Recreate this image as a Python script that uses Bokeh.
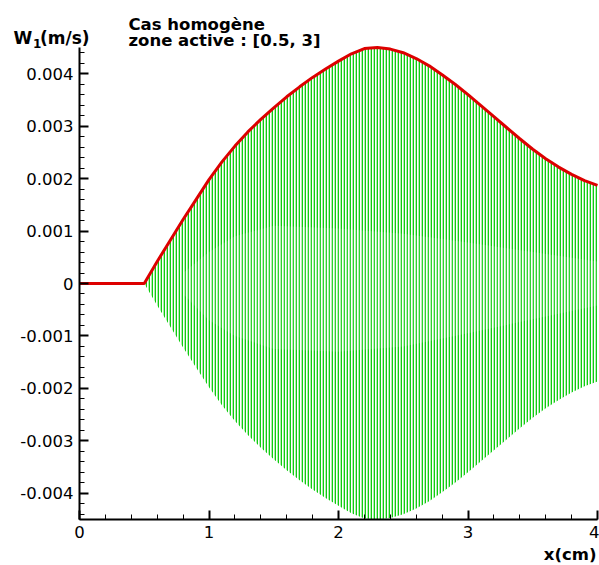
from bokeh.plotting import figure
from bokeh.models import FixedTicker, Label, ColumnDataSource
from bokeh.embed import file_html
from bokeh.resources import INLINE

# Envelope of W1 (m/s) versus x (cm)
x_env = [0.0, 0.5, 0.6, 0.7, 0.8, 0.9, 1.0, 1.1, 1.2, 1.3, 1.4, 1.5, 1.6, 1.7, 1.8, 1.9,
         2.0, 2.1, 2.2, 2.3, 2.4, 2.5, 2.6, 2.7, 2.8, 2.9, 3.0, 3.1, 3.2, 3.3, 3.4,
         3.5, 3.6, 3.7, 3.8, 3.9, 4.0]
w_env = [0.0, 0.0, 0.00042, 0.00082, 0.00122, 0.00160, 0.00198, 0.00232, 0.00262,
         0.00289, 0.00313, 0.00335, 0.00356, 0.00375, 0.00393, 0.00409, 0.00424,
         0.00438, 0.00448, 0.00450, 0.00447, 0.00440, 0.00429, 0.00415, 0.00398,
         0.00380, 0.00360, 0.00339, 0.00318, 0.00297, 0.00276, 0.00256, 0.00238,
         0.00222, 0.00208, 0.00196, 0.00187]
w_neg = [-v for v in w_env]

# paler inner band of the oscillation
x_band = [0.8, 1.0, 1.2, 1.5, 2.0, 2.5, 3.0, 3.5, 4.0]
band_hi = [0.0002, 0.0006, 0.0009, 0.00110, 0.00105, 0.00095, 0.00078, 0.00060, 0.00042]
band_lo = [-0.0002, -0.0007, -0.0010, -0.00125, -0.00130, -0.00120, -0.00095, -0.00068, -0.00042]

x_ticks = [0, 1, 2, 3, 4]
x_labels = ["0", "1", "2", "3", "4"]
y_ticks = [-0.004, -0.003, -0.002, -0.001, 0.0, 0.001, 0.002, 0.003, 0.004]
y_labels = ["-0.004", "-0.003", "-0.002", "-0.001", "0", "0.001", "0.002", "0.003", "0.004"]
x_minor = [i * 0.2 for i in range(0, 21)]
y_minor = [i * 0.0002 for i in range(-22, 23)]
X_MIN, X_MAX = 0.0, 4.0
Y_MIN, Y_MAX = -0.0045, 0.0045

# layout (pixels) of the plotting box inside the 599x565 canvas
W, H = 599, 565
LEFT, RIGHT, TOP, BOTTOM = 79, 597, 47, 519
kx = (RIGHT - LEFT) / (X_MAX - X_MIN)
ky = (BOTTOM - TOP) / (Y_MAX - Y_MIN)
xr = (X_MIN - LEFT / kx, X_MAX + (W - RIGHT) / kx)
yr = (Y_MIN - (H - BOTTOM) / ky, Y_MAX + TOP / ky)

FONT = "DejaVu Sans"

p = figure(width=W, height=H, output_backend="svg", toolbar_location=None,
           x_range=xr, y_range=yr, min_border=0)
p.outline_line_color = None
p.xgrid.visible = False
p.ygrid.visible = False
p.background_fill_color = "white"
p.border_fill_color = "white"

src = ColumnDataSource(dict(x=x_env, top=w_env, bot=w_neg))
p.varea(x="x", y1="bot", y2="top", source=src, fill_alpha=0.0,
        hatch_pattern="vertical_line", hatch_color="#10cc10",
        hatch_scale=3, hatch_weight=1.7)
band = ColumnDataSource(dict(x=x_band, hi=band_hi, lo=band_lo))
p.varea(x="x", y1="lo", y2="hi", source=band, fill_color="white", fill_alpha=0.14)
p.line(x="x", y="top", source=src, line_color="#dd0000", line_width=3)

p.xaxis.fixed_location = Y_MIN
p.xaxis.bounds = (X_MIN, X_MAX)
p.yaxis.fixed_location = X_MIN
p.yaxis.bounds = (Y_MIN, Y_MAX)

for ax, ticks, labels, minor in ((p.xaxis[0], x_ticks, x_labels, x_minor),
                                 (p.yaxis[0], y_ticks, y_labels, y_minor)):
    ax.ticker = FixedTicker(ticks=ticks, minor_ticks=minor)
    ax.major_label_overrides = {t: l for t, l in zip(ticks, labels)}
    ax.axis_line_width = 2
    ax.axis_line_color = "black"
    ax.major_tick_in = 9
    ax.major_tick_out = 0
    ax.minor_tick_in = 5
    ax.minor_tick_out = 0
    ax.major_tick_line_width = 2
    ax.minor_tick_line_width = 1
    ax.major_label_text_font = FONT
    ax.major_label_text_font_size = "16.5px"
    ax.major_label_text_color = "black"
    ax.major_label_standoff = 6
    ax.axis_label = None

def lab(text, cx, cy, size="16.5px", bold=True, align="left"):
    # cx, cy: canvas position (from top-left) of the text anchor
    p.add_layout(Label(x=cx, y=H - cy, x_units="screen", y_units="screen", text=text,
                       text_font=FONT, text_font_size=size,
                       text_font_style="bold" if bold else "normal",
                       text_align=align, text_baseline="alphabetic", text_color="black"))

lab("Cas homogène", 128, 23.5)
lab("zone active : [0.5, 3]", 128, 40)
lab("W", 13, 37, size="17px")
lab("1", 32.5, 43, size="12px")
lab("(m/s)", 39.5, 37, size="17px")
lab("x(cm)", 596, 554, align="right")

open("out.html", "w").write(file_html(p, INLINE))
